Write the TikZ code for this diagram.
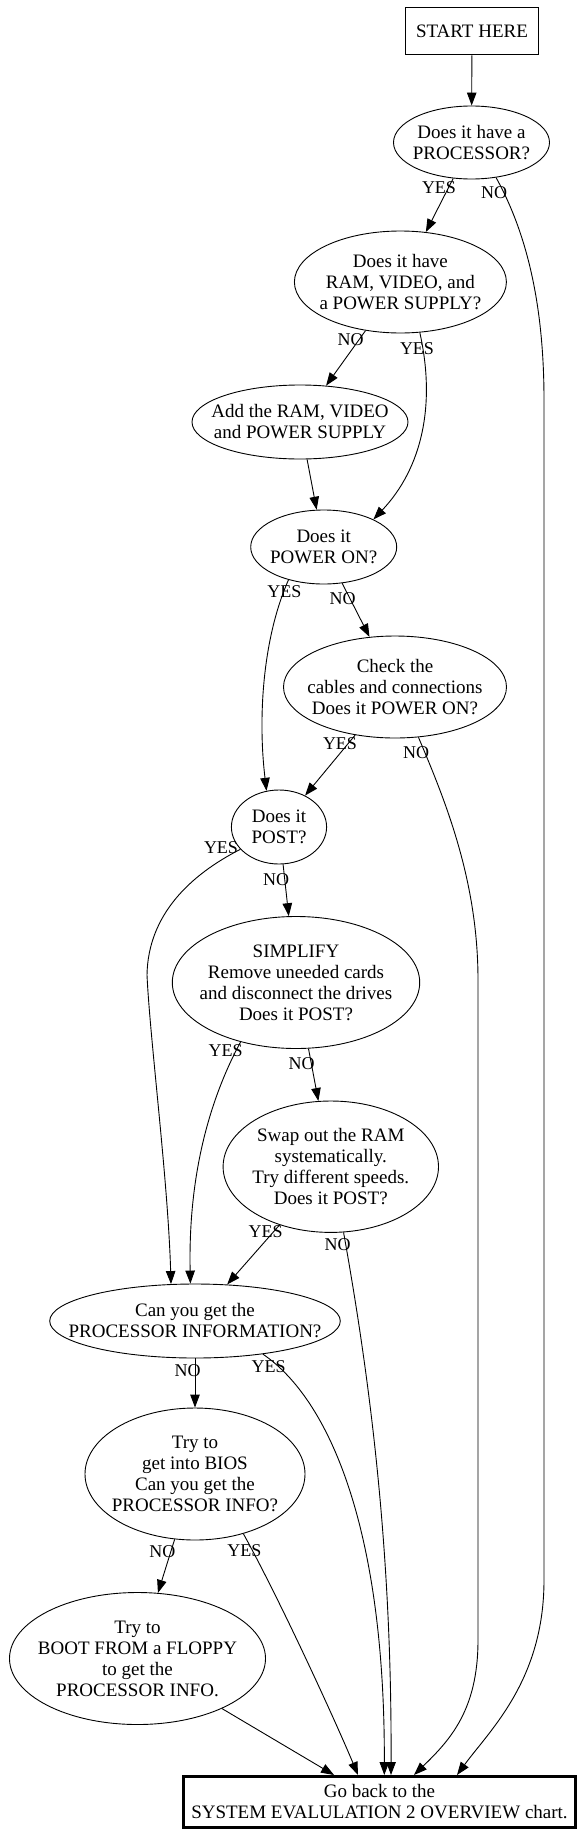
\documentclass[tikz,border=0pt]{standalone}
\usepackage{fontspec}
\setmainfont{Liberation Serif}
\usetikzlibrary{shapes.geometric,arrows.meta}
\begin{document}
\begin{tikzpicture}[x=1pt,y=-1pt,
  ell/.style={draw, ellipse, inner sep=0pt, line width=0.9pt},
  box/.style={draw, rectangle, inner sep=0pt, line width=0.9pt},
  txt/.style={align=center, font=\fontsize{19}{21}\selectfont, inner sep=0pt},
  lbl/.style={font=\fontsize{18}{18}\selectfont, inner sep=0pt},
  arr/.style={draw, line width=0.9pt, -{Triangle[length=13pt,width=9.5pt]}}]
\useasboundingbox (0,0) rectangle (584,1836);

% nodes
\node[box, txt, minimum width=132.6pt, minimum height=47.7pt] (start) at (472,31) {START HERE};

\node[ell, minimum width=156pt, minimum height=73pt] (e1) at (471.5,142.5) {};
\node[txt] (e1t) at (e1) {Does it have a\\PROCESSOR?};

\node[ell, minimum width=212pt, minimum height=102pt] (e2) at (400.4,282) {};
\node[txt] (e2t) at (e2) {Does it have\\RAM, VIDEO, and\\a POWER SUPPLY?};

\node[ell, minimum width=216pt, minimum height=74pt] (e3) at (300,422) {};
\node[txt] (e3t) at (e3) {Add the RAM, VIDEO\\and POWER SUPPLY};

\node[ell, minimum width=146pt, minimum height=74pt] (e4) at (323.7,547) {};
\node[txt] (e4t) at (e4) {Does it\\POWER ON?};

\node[ell, minimum width=223pt, minimum height=102pt] (e5) at (395,687) {};
\node[txt] (e5t) at (e5) {Check the\\cables and connections\\Does it POWER ON?};

\node[ell, minimum width=95.2pt, minimum height=74pt] (e6) at (279,827) {};
\node[txt] (e6t) at (e6) {Does it\\POST?};

\node[ell, minimum width=247.4pt, minimum height=132pt] (e7) at (296,982.5) {};
\node[txt] (e7t) at (e7) {SIMPLIFY\\Remove uneeded cards\\and disconnect the drives\\Does it POST?};

\node[ell, minimum width=215.4pt, minimum height=131.4pt] (e8) at (330.8,1166.7) {};
\node[txt] (e8t) at (e8) {Swap out the RAM\\systematically.\\Try different speeds.\\Does it POST?};

\node[ell, minimum width=290.6pt, minimum height=74pt] (e9) at (195,1321) {};
\node[txt] (e9t) at (e9) {Can you get the\\PROCESSOR INFORMATION?};

\node[ell, minimum width=220pt, minimum height=132pt] (e10) at (195,1474) {};
\node[txt] (e10t) at (e10) {Try to\\get into BIOS\\Can you get the\\PROCESSOR INFO?};

\node[ell, minimum width=256pt, minimum height=132pt] (e11) at (137.5,1658.5) {};
\node[txt] (e11t) at (e11) {Try to\\BOOT FROM a FLOPPY\\to get the\\PROCESSOR INFO.};

\node[box, txt, line width=3pt, minimum width=392pt, minimum height=51pt] (end) at (379.5,1802) {Go back to the\\SYSTEM EVALULATION 2 OVERVIEW chart.};

% arrival points on the final box
\coordinate (t1) at ([xshift=77.5pt]end.north);
\coordinate (t5) at ([xshift=34.5pt]end.north);
\coordinate (t8) at ([xshift=11.5pt]end.north);
\coordinate (t9) at ([xshift=4.8pt]end.north);
\coordinate (t10) at ([xshift=-21.5pt]end.north);

% edges
\draw[arr] (start) -- (e1);
\draw[arr] (e1) -- (e2);
\draw[arr] (e1.-55) .. controls (525,230) and (544,300) .. (544,400) -- (544,1580) .. controls (544,1680) and (490,1730) .. (t1);
\draw[arr] (e2) -- (e3);
\draw[arr] (e2.-69) .. controls (436,405) and (422,468) .. (e4.29);
\draw[arr] (e3) -- (e4);
\draw[arr] (e4) -- (e5);
\draw[arr] (e4.-137) .. controls (262,640) and (258,720) .. (e6.109);
\draw[arr] (e5) -- (e6);
\draw[arr] (e5.-65) .. controls (445,800) and (478,880) .. (478,980) -- (478,1640) .. controls (478,1710) and (450,1740) .. (t5);
\draw[arr] (e6) -- (e7);
\draw[arr] (e6.-150) .. controls (190,875) and (148,915) .. (147,975) .. controls (150,1040) and (168,1180) .. (e9.123);
\draw[arr] (e7) -- (e8);
\draw[arr] (e7.-133) .. controls (212,1095) and (188,1170) .. (e9.97);
\draw[arr] (e8) -- (e9);
\draw[arr] (e8.-79) .. controls (370,1380) and (392,1550) .. (t8);
\draw[arr] (e9) -- (e10);
\draw[arr] (e9.-26) .. controls (330,1400) and (385,1530) .. (t9);
\draw[arr] (e10) -- (e11);
\draw[arr] (e10.-51) .. controls (280,1600) and (335,1720) .. (t10);
\draw[arr] (e11) -- (end);

% edge labels
\node[lbl] (l1y) at (439,188) {YES};
\node[lbl] (l1n) at (494,192.7) {NO};
\node[lbl] (l2n) at (350.7,339.3) {NO};
\node[lbl] (l2y) at (417,348.3) {YES};
\node[lbl] (l4y) at (284.3,591.7) {YES};
\node[lbl] (l4n) at (342.5,599) {NO};
\node[lbl] (l5y) at (340,743.3) {YES};
\node[lbl] (l5n) at (416,752.7) {NO};
\node[lbl] (l6y) at (221,847.7) {YES};
\node[lbl] (l6n) at (276,879.3) {NO};
\node[lbl] (l7y) at (225.7,1050.7) {YES};
\node[lbl] (l7n) at (301.5,1064) {NO};
\node[lbl] (l8y) at (265.7,1231.7) {YES};
\node[lbl] (l8n) at (337.7,1245) {NO};
\node[lbl] (l9n) at (187.7,1370.5) {NO};
\node[lbl] (l9y) at (268.7,1366.8) {YES};
\node[lbl] (l10n) at (162.3,1551.5) {NO};
\node[lbl] (l10y) at (244.4,1550.4) {YES};
\end{tikzpicture}
\end{document}
